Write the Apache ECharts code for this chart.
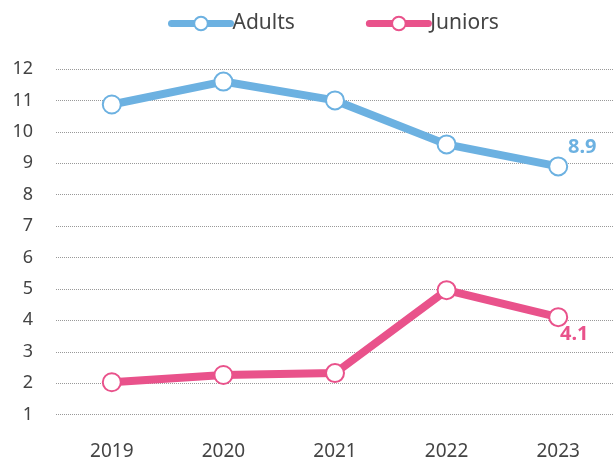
<!DOCTYPE html>
<html>
<head>
<meta charset="utf-8">
<script src="https://cdn.jsdelivr.net/npm/echarts@6/dist/echarts.min.js"></script>
<style>
  html, body { margin: 0; padding: 0; background: #fff; }
  #chart { width: 614px; height: 463px; }
</style>
</head>
<body>
<div id="chart"></div>
<script>
const years = ["2019", "2020", "2021", "2022", "2023"];
const adults = [10.87, 11.6, 11.0, 9.6, 8.9];
const juniors = [2.03, 2.26, 2.32, 4.96, 4.1];

const blue = "#6cb1e1";
const pink = "#e9528b";
const font = "Noto Sans";

function lastLabel(data, color, offset) {
  return data.map((v, i) => {
    if (i !== data.length - 1) return v;
    return {
      value: v,
      label: {
        show: true,
        position: "inside",
        offset: offset,
        color: color,
        fontWeight: "bold",
        fontSize: 20,
        fontFamily: font,
      },
    };
  });
}

const chart = echarts.init(document.getElementById("chart"));
chart.setOption({
  animation: false,
  legend: {
    top: 13,
    left: 168,
    padding: 0,
    itemWidth: 59,
    itemHeight: 17,
    itemGap: 71,
    lineStyle: { width: 7, cap: "round" },
    textStyle: {
      fontSize: 21,
      color: "#444",
      fontFamily: font,
      padding: [0, 0, 0, -3],
    },
    data: ["Adults", "Juniors"],
  },
  grid: { left: 56, right: -4, top: 69, bottom: 17 },
  xAxis: {
    type: "category",
    data: years,
    axisLine: { show: false },
    axisTick: { show: false },
    axisLabel: {
      margin: 6,
      verticalAlign: "middle",
      fontSize: 19,
      color: "#444",
      fontFamily: font,
    },
  },
  yAxis: {
    type: "value",
    min: 0,
    max: 12,
    interval: 1,
    axisLine: { show: false },
    axisTick: { show: false },
    axisLabel: {
      margin: 23,
      fontSize: 18,
      color: "#444",
      fontFamily: font,
      formatter: (v) => (v === 0 ? "" : v),
    },
    splitLine: {
      showMinLine: false,
      lineStyle: { type: "dotted", color: "#999", width: 1 },
    },
  },
  series: [
    {
      name: "Adults",
      type: "line",
      data: lastLabel(adults, blue, [24, -19]),
      color: blue,
      lineStyle: { width: 8, color: blue },
      symbol: "circle",
      symbolSize: 18,
      itemStyle: { color: "#fff", borderColor: blue, borderWidth: 2 },
    },
    {
      name: "Juniors",
      type: "line",
      data: lastLabel(juniors, pink, [16, 17]),
      color: pink,
      lineStyle: { width: 8, color: pink },
      symbol: "circle",
      symbolSize: 18,
      itemStyle: { color: "#fff", borderColor: pink, borderWidth: 2 },
    },
  ],
});
</script>
</body>
</html>
